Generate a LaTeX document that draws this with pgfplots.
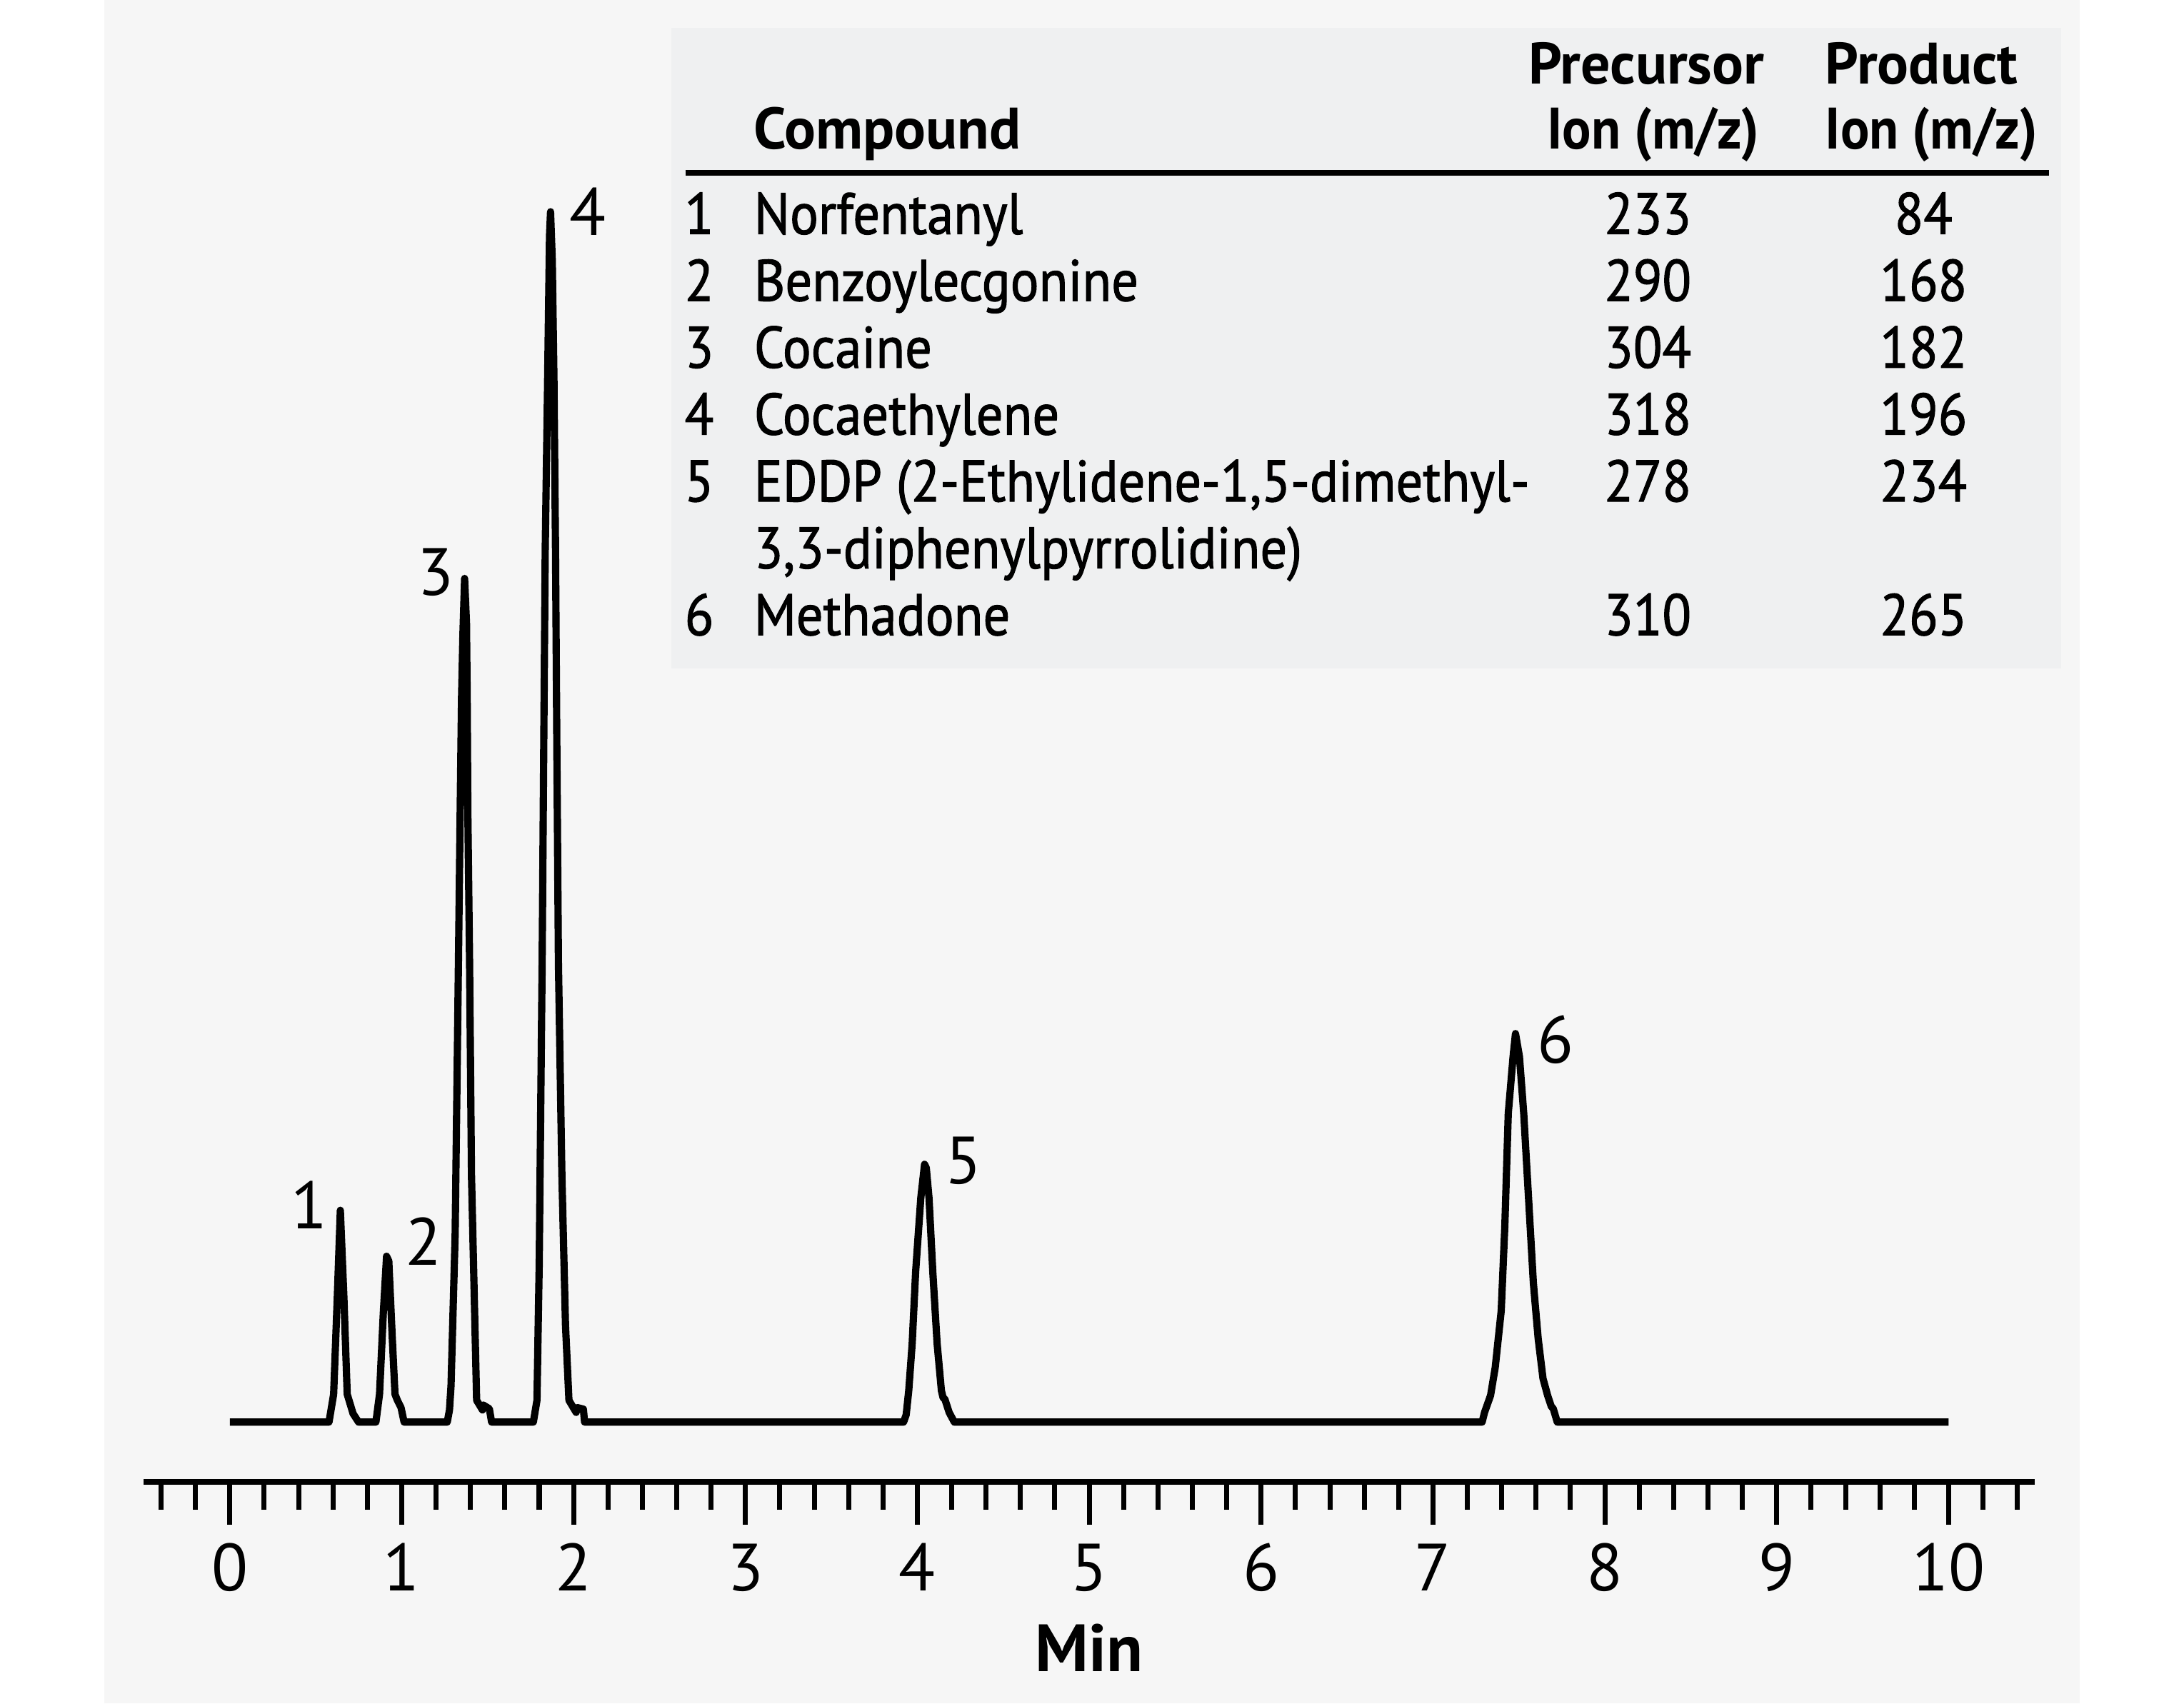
\documentclass[border=0pt]{standalone}
\usepackage{fontspec}
\setmainfont{PT Sans}
\newfontfamily\semib{PT Sans}[FakeBold=1.3, FakeStretch=0.91]
\newfontfamily\headb{PT Sans Bold}[FakeStretch=0.92]
\usepackage{pgfplots}
\pgfplotsset{compat=1.18}
\definecolor{panel}{HTML}{F6F6F6}
\definecolor{tablebg}{HTML}{EFF0F1}
\begin{document}
\begin{tikzpicture}
% background panel and table box
\fill[panel] (-45pt,-101pt) rectangle (664pt,510.5pt);
\fill[tablebg] (158.5pt,270.5pt) rectangle (657.5pt,500.5pt);
\draw[line width=2.1pt] (163.5pt,448.5pt) -- (653pt,448.5pt);
\begin{scope}[every node/.style={inner sep=0pt}]
\node[anchor=base west, font=\bfseries\fontsize{21}{25}\selectfont] at (188pt,457pt) {Compound};
\node[anchor=base, font=\bfseries\fontsize{21}{25}\selectfont] at (508.5pt,480.5pt) {Precursor};
\node[anchor=base, font=\headb\fontsize{21}{25}\selectfont] at (511pt,457pt) {Ion (m/z)};
\node[anchor=base west, font=\bfseries\fontsize{21}{25}\selectfont] at (572.5pt,480.5pt) {Product};
\node[anchor=base west, font=\headb\fontsize{21}{25}\selectfont] at (572.5pt,457pt) {Ion (m/z)};
\foreach \y/\i/\nm/\p/\q in {426.5/1/Norfentanyl/233/84, 402.5/2/Benzoylecgonine/290/168, 378.5/3/Cocaine/304/182, 354.5/4/Cocaethylene/318/196, 330.5/5/{EDDP (2-Ethylidene-1,5-dimethyl-}/278/234, 282.5/6/Methadone/310/265}{
  \node[anchor=base, font=\semib\fontsize{21}{25}\selectfont] at (168.5pt,\y pt) {\i};
  \node[anchor=base west, font=\semib\fontsize{21}{25}\selectfont] at (188pt,\y pt) {\nm};
  \node[anchor=base, font=\semib\fontsize{21}{25}\selectfont] at (509pt,\y pt) {\p};
  \node[anchor=base, font=\semib\fontsize{21}{25}\selectfont] at (608pt,\y pt) {\q};
}
\node[anchor=base west, font=\semib\fontsize{21}{25}\selectfont] at (188pt,306.5pt) {3,3-diphenylpyrrolidine)};
\end{scope}
\begin{axis}[
  anchor=origin, at={(0pt,0pt)},
  x=61.7pt, y=4.345pt,
  xmin=-0.5, xmax=10.5, ymin=-4.95, ymax=100,
  axis x line*=bottom, axis y line=none,
  axis line style={line width=2.1pt},
  clip=false,
  xtick={0,1,...,10},
  minor xtick={-0.4,-0.2,...,10.45},
  tick align=outside,
  major tick length=15.25pt, minor tick length=10pt,
  every tick/.style={black, line width=1.8pt},
  ytick=\empty,
  xticklabel style={font=\fontsize{24}{28}\selectfont, /pgf/number format/assume math mode=true, anchor=base, inner sep=0pt, yshift=-23.75pt},
  xlabel={Min},
  xlabel style={font=\bfseries\fontsize{24}{28}\selectfont, anchor=base, inner sep=0pt, at={(axis cs:5,-4.95)}, yshift=-68pt},
]
\addplot[black, line width=2.6pt, line join=round, mark=none] coordinates {
(0,0) (0.577,0) (0.604,2.3) (0.625,10.2) (0.643,17.5) (0.664,10.2) (0.683,2.3) (0.717,0.7) (0.749,0)
(0.850,0) (0.871,2.3) (0.893,9.0) (0.912,13.7) (0.925,13.3) (0.945,7.0) (0.961,2.3) (0.975,1.8) (0.996,1.2) (1.014,0)
(1.265,0) (1.278,1.0) (1.287,3.0) (1.311,15.5) (1.330,37.8) (1.340,50.2) (1.348,59.7) (1.356,65) (1.366,69.7) (1.377,66) (1.381,59.7) (1.385,50.2) (1.395,37.8) (1.406,20.4) (1.426,8.0) (1.436,1.8) (1.470,1.0) (1.475,1.4) (1.510,1.1) (1.523,0)
(1.766,0) (1.787,1.8) (1.800,13.0) (1.817,37.8) (1.826,55) (1.835,72) (1.848,85) (1.860,98) (1.866,100) (1.876,96) (1.886,86) (1.895,72) (1.903,55) (1.912,37.8) (1.932,20.4) (1.953,8.0) (1.973,1.8) (2.015,0.8) (2.020,1.2) (2.057,1.07) (2.064,0)
(3.920,0) (3.935,0.6) (3.950,2.6) (3.970,6.5) (3.990,12.4) (4.020,18.5) (4.042,21.3) (4.052,21.0) (4.068,18.5) (4.090,12.4) (4.115,6.5) (4.140,2.6) (4.150,2.0) (4.160,1.9) (4.185,0.8) (4.215,0)
(7.286,0) (7.300,0.8) (7.335,2.2) (7.362,4.5) (7.397,9.2) (7.418,16.2) (7.438,25.5) (7.466,30.2) (7.480,32.1) (7.503,30.2) (7.528,25.5) (7.556,18.5) (7.584,11.5) (7.612,6.9) (7.640,3.6) (7.667,2.2) (7.688,1.3) (7.700,1.1) (7.723,0)
(10,0)
};
\begin{scope}[every node/.style={inner sep=0pt, anchor=center, font=\fontsize{24}{28}\selectfont}]
\node at (axis cs:0.462,17.95) {1};
\node at (axis cs:1.126,14.96) {2};
\node at (axis cs:1.199,70.2) {3};
\node at (axis cs:2.083,100.0) {4};
\node at (axis cs:4.270,21.6) {5};
\node at (axis cs:7.714,31.6) {6};
\end{scope}
\end{axis}
\pgfresetboundingbox
\useasboundingbox (-82.5pt,-101pt) rectangle (701.5pt,510.5pt);
\end{tikzpicture}
\end{document}
